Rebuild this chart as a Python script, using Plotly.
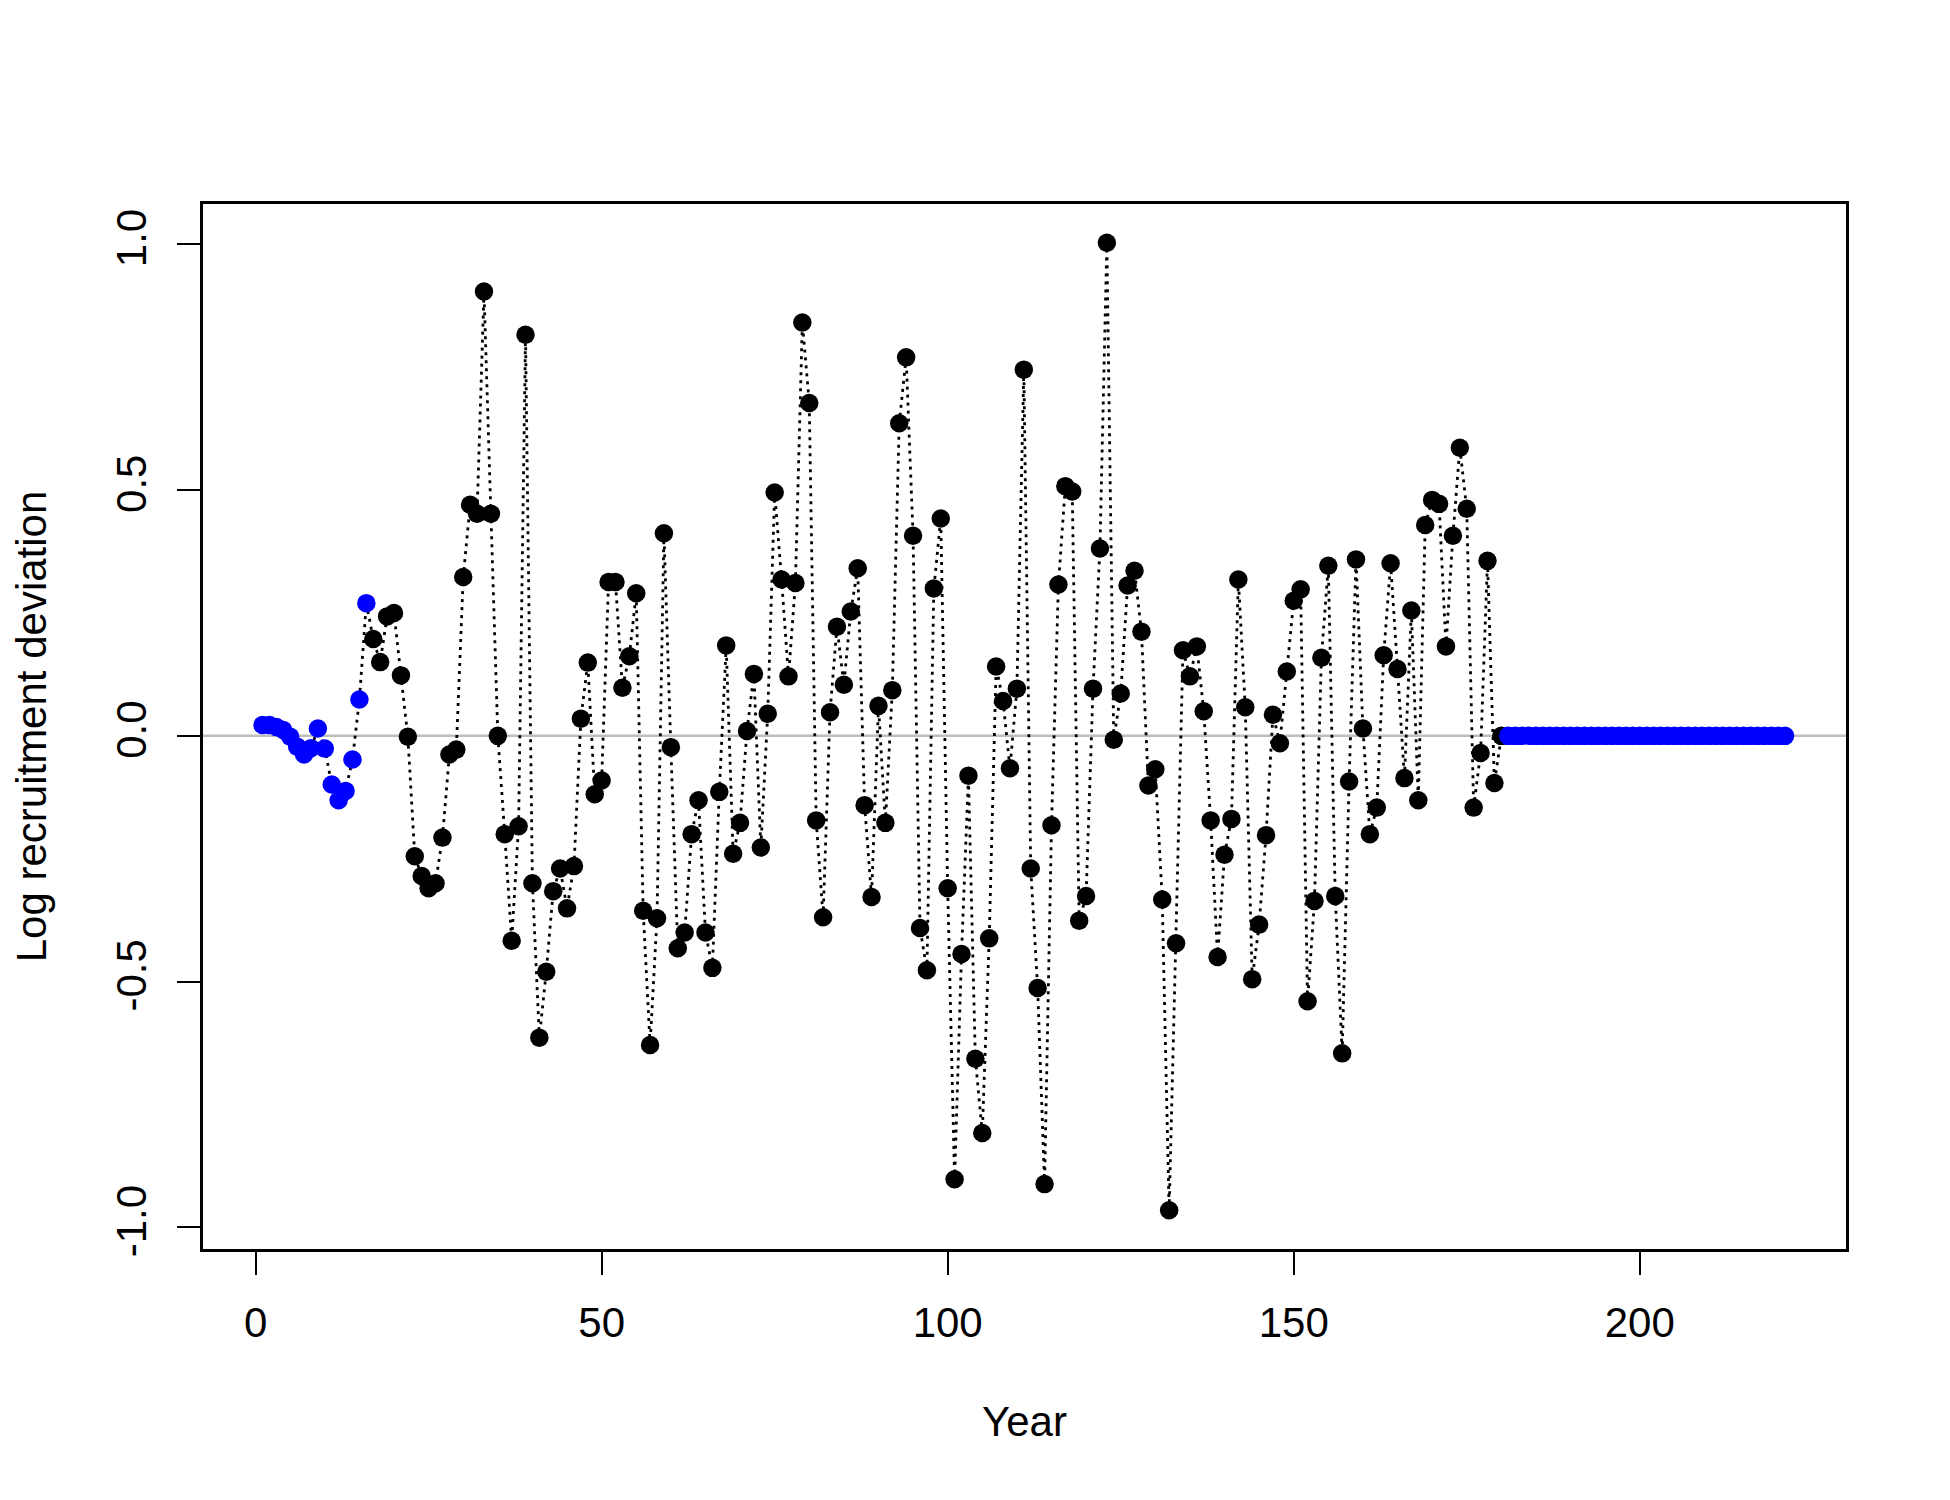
import plotly.graph_objects as go

# ---- data ----
early_years = list(range(1, 17))
early_dev = [0.022, 0.022, 0.018, 0.012, -0.002, -0.022, -0.038, -0.025,
             0.015, -0.026, -0.099, -0.131, -0.112, -0.048, 0.074, 0.270]

main_years = list(range(17, 181))
main_dev = [
    0.197, 0.150, 0.243, 0.250, 0.123, -0.002, -0.245, -0.285, -0.310, -0.300,   # 17-26
    -0.207, -0.038, -0.028, 0.323, 0.470, 0.452, 0.904, 0.452, 0.000, -0.200,    # 27-36
    -0.417, -0.184, 0.816, -0.300, -0.614, -0.480, -0.316, -0.270, -0.351, -0.265,  # 37-46
    0.035, 0.149, -0.119, -0.091, 0.313, 0.313, 0.098, 0.162, 0.290, -0.356,     # 47-56
    -0.629, -0.371, 0.412, -0.023, -0.432, -0.400, -0.200, -0.131, -0.400, -0.472,  # 57-66
    -0.114, 0.184, -0.240, -0.177, 0.010, 0.126, -0.227, 0.045, 0.495, 0.318,    # 67-76
    0.121, 0.311, 0.841, 0.677, -0.172, -0.369, 0.048, 0.222, 0.104, 0.253,      # 77-86
    0.341, -0.141, -0.328, 0.061, -0.177, 0.093, 0.636, 0.770, 0.407, -0.391,    # 87-96
    -0.477, 0.300, 0.442, -0.310, -0.902, -0.444, -0.081, -0.657, -0.808, -0.412,  # 97-106
    0.141, 0.071, -0.066, 0.096, 0.745, -0.270, -0.513, -0.912, -0.182, 0.308,   # 107-116
    0.508, 0.497, -0.376, -0.326, 0.096, 0.381, 1.003, -0.008, 0.086, 0.306,     # 117-126
    0.336, 0.212, -0.101, -0.068, -0.333, -0.965, -0.422, 0.174, 0.121, 0.182,   # 127-136
    0.050, -0.172, -0.450, -0.242, -0.169, 0.318, 0.058, -0.495, -0.384, -0.202,  # 137-146
    0.043, -0.015, 0.131, 0.275, 0.298, -0.540, -0.336, 0.159, 0.346, -0.326,    # 147-156
    -0.646, -0.093, 0.359, 0.015, -0.200, -0.146, 0.164, 0.351, 0.136, -0.086,   # 157-166
    0.255, -0.131, 0.429, 0.480, 0.472, 0.182, 0.407, 0.586, 0.462, -0.146,      # 167-176
    -0.035, 0.356, -0.096, 0.000,                                                # 177-180
]

fore_years = list(range(181, 222))
fore_dev = [0.0, 0.0, 0.0, 0.0, 0.0, 0.0, 0.0, 0.0, 0.0, 0.0,
            0.0, 0.0, 0.0, 0.0, 0.0, 0.0, 0.0, 0.0, 0.0, 0.0,
            0.0, 0.0, 0.0, 0.0, 0.0, 0.0, 0.0, 0.0, 0.0, 0.0,
            0.0, 0.0, 0.0, 0.0, 0.0, 0.0, 0.0, 0.0, 0.0, 0.0,
            0.0]

x_ticks = [0, 50, 100, 150, 200]
x_ticktext = ["0", "50", "100", "150", "200"]
y_ticks = [-1.0, -0.5, 0.0, 0.5, 1.0]
y_ticktext = ["-1.0", "-0.5", "0.0", "0.5", "1.0"]

x_title = "Year"
y_title = "Log recruitment deviation"

# ---- figure ----
FONT = "Liberation Sans, Arial, sans-serif"
all_years = early_years + main_years + fore_years
all_dev = early_dev + main_dev + fore_dev

fig = go.Figure()

fig.add_hline(y=0, line=dict(color="#BEBEBE", width=2.5), layer="below")

fig.add_trace(go.Scatter(
    x=all_years, y=all_dev, mode="lines",
    line=dict(color="black", width=2.8, dash="3px,5px"),
    hoverinfo="skip", showlegend=False))

marker_common = dict(size=18.5, line=dict(width=0))
fig.add_trace(go.Scatter(x=early_years, y=early_dev, mode="markers",
                         marker=dict(color="#0000FF", **marker_common), showlegend=False))
fig.add_trace(go.Scatter(x=main_years, y=main_dev, mode="markers",
                         marker=dict(color="black", **marker_common), showlegend=False))
fig.add_trace(go.Scatter(x=fore_years, y=fore_dev, mode="markers",
                         marker=dict(color="#0000FF", **marker_common), showlegend=False))

axis_common = dict(
    showgrid=False, zeroline=False,
    showline=True, mirror=True, linecolor="black", linewidth=2.5,
    ticks="outside", ticklen=23, tickwidth=2, tickcolor="black",
    tickfont=dict(family=FONT, size=42, color="black"),
)

fig.update_xaxes(
    range=[-7.6, 229.8], tickmode="array", tickvals=x_ticks, ticktext=x_ticktext,
    ticklabelstandoff=12,
    title=dict(text=x_title, font=dict(family=FONT, size=42, color="black"), standoff=62),
    **axis_common)
fig.update_yaxes(
    range=[-1.044, 1.082], tickmode="array", tickvals=y_ticks, ticktext=y_ticktext,
    tickangle=-90, ticklabelstandoff=14,
    title=dict(text=y_title, font=dict(family=FONT, size=42, color="black"), standoff=55),
    **axis_common)

fig.update_layout(
    width=1950, height=1500,
    margin=dict(l=195, r=112, t=196, b=259),
    paper_bgcolor="white", plot_bgcolor="white",
    font=dict(family=FONT, size=42, color="black"),
)

fig.write_html("out.html")
